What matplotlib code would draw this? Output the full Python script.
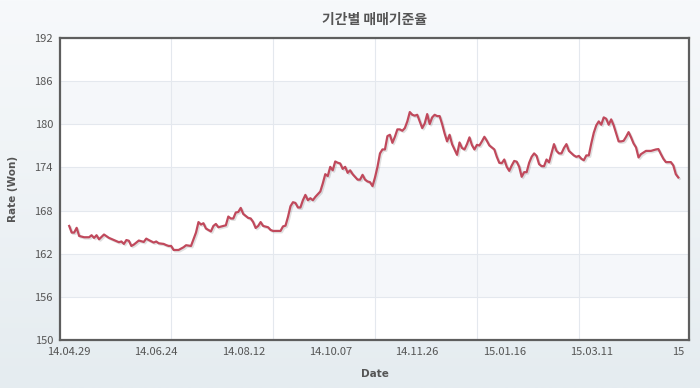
import numpy as np
import matplotlib
matplotlib.use('Agg')  # headless
import matplotlib.pyplot as plt
import matplotlib.patheffects as pe

plt.rcParams['font.family'] = ['Noto Sans CJK KR', 'DejaVu Sans']

#trading day index (0 = 14.04.29) and the exchange rate
day_idx = [0, 1, 2, 3, 4, 6, 8, 9, 10, 11, 12, 14, 16, 18, 20, 21, 22, 23, 24, 25,
           26, 28, 30, 31, 32, 34, 35, 36, 38, 39, 40, 41, 42, 44, 46, 47, 49, 50, 51, 52,
           53, 54, 55, 57, 58, 59, 60, 62, 63, 64, 65, 66, 67, 68, 69, 70, 72, 73, 74, 75,
           76, 77, 78, 80, 81, 82, 83, 84, 85, 86, 87, 88, 89, 90, 91, 92, 93, 94, 95, 96,
           97, 98, 99, 101, 102, 103, 104, 105, 106, 107, 108, 109, 110, 111, 112, 113, 114, 116, 117, 118,
           119, 120, 121, 122, 123, 124, 125, 126, 127, 128, 129, 130, 131, 132, 133, 134, 135, 136, 137, 138,
           139, 140, 141, 142, 143, 144, 145, 146, 147, 148, 149, 150, 151, 152, 153, 154, 155, 156, 157, 158,
           159, 160, 161, 162, 163, 164, 165, 166, 167, 168, 169, 171, 172, 173, 174, 175, 176, 177, 178, 179,
           180, 181, 182, 183, 184, 185, 186, 187, 188, 189, 190, 191, 192, 193, 194, 195, 196, 197, 198, 199,
           200, 201, 203, 204, 205, 206, 207, 208, 209, 210, 211, 212, 213, 214, 215, 216, 217, 218, 219, 220,
           221, 222, 223, 224, 225, 226, 227, 228, 229, 230, 232, 233, 234, 236, 237, 238, 239, 240, 241, 242,
           243, 244, 245]
rate = [165.86, 164.94, 164.94, 165.6, 164.47, 164.29, 164.29, 164.57, 164.2, 164.57, 164.0, 164.67, 164.2, 163.9, 163.6, 163.7, 163.36, 163.9, 163.8, 163.08,
        163.27, 163.83, 163.64, 164.1, 163.9, 163.55, 163.7, 163.45, 163.36, 163.2, 163.08, 163.08, 162.52, 162.52, 162.9, 163.18, 163.08, 164.0, 164.94, 166.4,
        166.06, 166.24, 165.5, 165.1, 165.86, 166.14, 165.68, 165.86, 165.95, 167.17, 166.9, 166.9, 167.73, 167.8, 168.37, 167.53, 166.98, 166.9, 166.4, 165.58,
        165.86, 166.4, 165.86, 165.68, 165.3, 165.17, 165.17, 165.17, 165.17, 165.8, 165.9, 167.12, 168.6, 169.16, 169.06, 168.43, 168.43, 169.44, 170.18, 169.44,
        169.72, 169.44, 169.9, 170.65, 171.77, 173.06, 172.8, 174.08, 173.6, 174.83, 174.65, 174.55, 173.8, 174.08, 173.25, 173.6, 173.06, 172.3, 172.3, 172.97,
        172.3, 172.05, 171.95, 171.4, 172.6, 174.08, 175.95, 176.5, 176.5, 178.36, 178.54, 177.42, 178.26, 179.29, 179.29, 179.1, 179.47, 180.4, 181.7, 181.32,
        181.2, 181.32, 180.4, 179.47, 180.12, 181.42, 180.03, 180.96, 181.32, 181.14, 181.14, 180.03, 178.73, 177.62, 178.54, 177.24, 176.5, 175.75, 177.47, 176.7,
        176.5, 177.24, 178.18, 177.1, 176.5, 177.14, 177.05, 177.62, 178.26, 177.7, 177.06, 176.5, 175.47, 174.64, 174.6, 175.1, 174.08, 173.52, 174.27, 174.9,
        174.8, 174.08, 172.7, 173.34, 173.34, 174.64, 175.47, 175.95, 175.6, 174.46, 174.18, 174.18, 175.1, 174.7, 175.95, 177.24, 176.3, 175.95, 175.95, 176.7,
        177.24, 176.3, 175.67, 175.47, 175.6, 175.2, 175.0, 175.67, 175.67, 177.34, 178.82, 179.85, 180.4, 179.94, 180.96, 180.77, 179.94, 180.68, 179.85, 178.73,
        177.62, 177.62, 177.7, 178.26, 178.91, 178.18, 177.34, 176.78, 175.39, 175.85, 176.3, 176.3, 176.3, 176.5, 176.55, 175.85, 175.2, 174.74, 174.74, 174.74,
        174.27, 173.06, 172.6]

#date labels (every 35 trading days), the last one is cut off in the original
label_idx = [0, 35, 70, 105, 140, 175, 210, 245]
date_labels = ['14.04.29', '14.06.24', '14.08.12', '14.10.07', '14.11.26', '15.01.16', '15.03.11', '15']
#vertical grid lines do not line up with the labels
vgrid_idx = [41, 82, 123, 164, 205]
y_ticks = [150, 156, 162, 168, 174, 180, 186, 192]

fig = plt.figure(figsize=(7, 3.88), dpi=100)

#light gradient background behind everything
bg = fig.add_axes([0, 0, 1, 1], zorder=-1)
grad = np.linspace(0, 1, 256).reshape(-1, 1)
bg.imshow(grad, aspect='auto', cmap=matplotlib.colors.LinearSegmentedColormap.from_list('bg', ['#f7f9fb', '#e5ecf0']),
          extent=[0, 1, 0, 1])
bg.axis('off')

ax = fig.add_axes([60 / 700, 48 / 388, 629 / 700, 302 / 388])
ax.set_facecolor('white')

#alternating bands
for lo in [156, 168, 180]:
    ax.axhspan(lo, lo + 6, color='#f5f7fa', zorder=0, lw=0)

ax.plot(day_idx, rate, color='#c0495c', lw=1.6, zorder=3,
        path_effects=[pe.SimpleLineShadow(offset=(1, -1), alpha=0.12, shadow_color='black'), pe.Normal()])

ax.set_xlim(-3.7, 249.3)
ax.set_ylim(150, 192)
ax.set_yticks(y_ticks)
ax.set_xticks(label_idx)
ax.set_xticklabels(date_labels)
ax.set_xticks(vgrid_idx, minor=True)
ax.grid(True, axis='y', which='major', color='#e4e8ee', lw=0.8, zorder=1)
ax.grid(True, axis='x', which='minor', color='#e4e8ee', lw=0.8, zorder=1)
ax.set_axisbelow(True)
ax.tick_params(which='both', length=0, labelsize=8, labelcolor='#555555')
ax.tick_params(axis='y', pad=5)
ax.tick_params(axis='x', pad=5)

for s in ax.spines.values():
    s.set_color('#5e5e5e')
    s.set_linewidth(1.6)

ax.set_xlabel('Date', fontsize=7.5, fontweight='bold', color='#555555', labelpad=9, family=['DejaVu Sans'])
ax.set_ylabel('Rate (Won)', fontsize=7.5, fontweight='bold', color='#555555', labelpad=12, family=['DejaVu Sans'])
ax.set_title('기간별 매매기준율', fontsize=10, fontweight='bold', color='#555555', pad=10)

plt.savefig('out.png', dpi=100)
plt.close()
